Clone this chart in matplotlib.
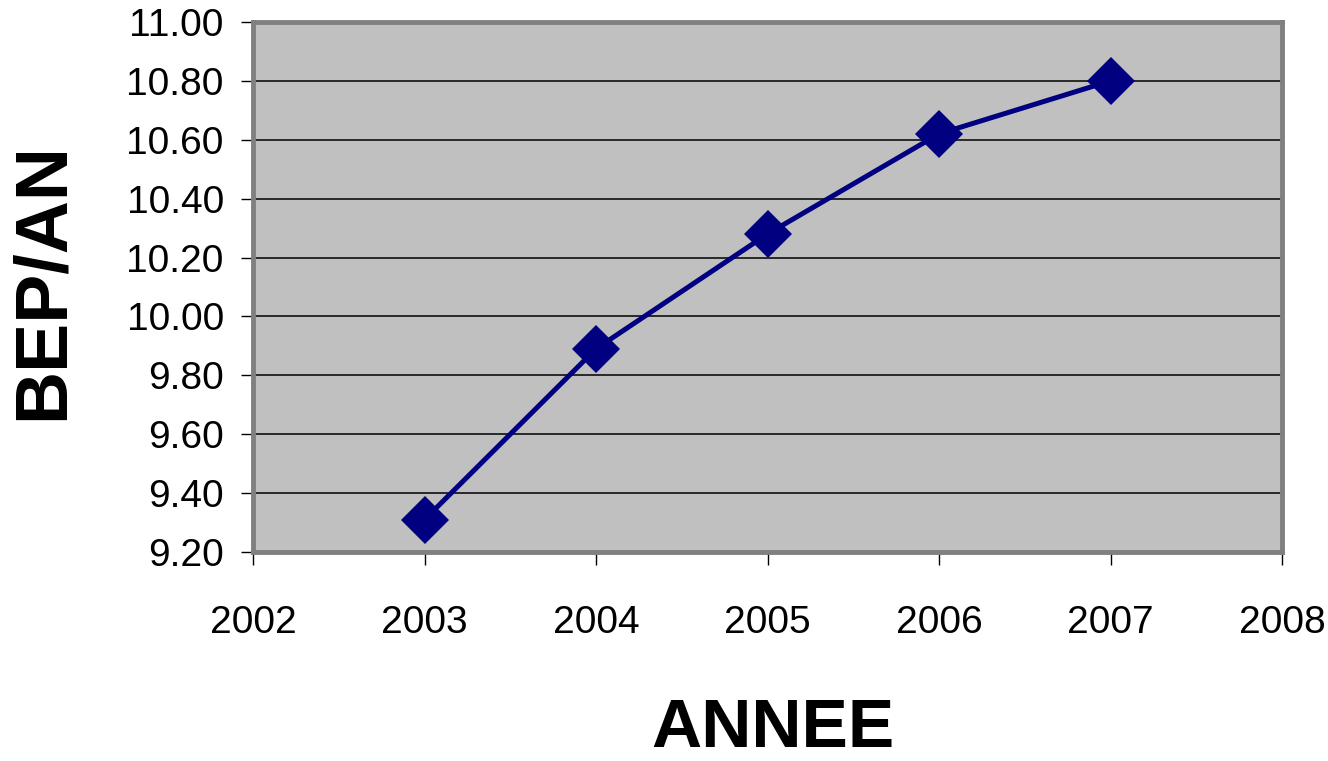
import matplotlib
matplotlib.use("Agg")
import matplotlib.pyplot as plt
import numpy as np

years = [2003, 2004, 2005, 2006, 2007]
bep_an = [9.31, 9.89, 10.28, 10.62, 10.80]
x_ticks = [2002, 2003, 2004, 2005, 2006, 2007, 2008]
y_ticks = [9.20, 9.40, 9.60, 9.80, 10.00, 10.20, 10.40, 10.60, 10.80, 11.00]
x_label = "ANNEE"
y_label = "BEP/AN"

plt.rcParams['font.family'] = ['Liberation Sans', 'DejaVu Sans']

fig = plt.figure(figsize=(13.28, 7.61), dpi=100)
ax = fig.add_axes([253/1328, 1-552/761, (1282-253)/1328, (552-22)/761])
ax.set_facecolor('#C0C0C0')

ax.set_xlim(x_ticks[0], x_ticks[-1])
ax.set_ylim(y_ticks[0], y_ticks[-1])
ax.set_xticks(x_ticks)
ax.set_yticks(y_ticks)
ax.set_yticklabels([f"{v:.2f}" for v in y_ticks])
ax.set_xticklabels([str(v) for v in x_ticks])

ax.grid(axis='y', color='black', linewidth=1.1, zorder=1)
ax.set_axisbelow(True)

for s in ax.spines.values():
    s.set_color('#808080')
    s.set_linewidth(3.5)
ax.axvline(x_ticks[0], color='black', linewidth=1.2, zorder=2)
ax.axhline(y_ticks[0], color='black', linewidth=1.2, zorder=2)

ax.plot(years, bep_an, color='#000080', linewidth=3.6, marker='D',
        markersize=24, markeredgewidth=0, markerfacecolor='#000080', zorder=3,
        clip_on=False)

ax.tick_params(axis='y', direction='out', length=9, width=1, color='black',
               labelsize=28, pad=12)
ax.tick_params(axis='x', direction='out', length=9, width=1, color='black',
               labelsize=28, pad=29)

fig.text(773/1328, 1-729/761, x_label, fontsize=50, fontweight='bold',
         ha='center', va='center')
fig.text(43/1328, 1-281/761, y_label, fontsize=53, fontweight='bold',
         rotation=90, ha='center', va='center')

fig.savefig("out.png", dpi=100)
